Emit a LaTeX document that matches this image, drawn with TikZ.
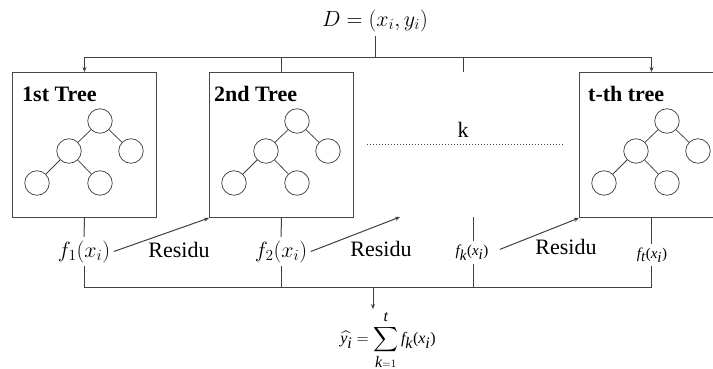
\RequirePackage{fix-cm}
\documentclass[tikz,border=0pt]{standalone}
\usepackage{exscale}
\usepackage[no-math]{fontspec}
\IfFontExistsTF{LiberationSerif-Regular.ttf}{%
  \newfontfamily\tms{LiberationSerif}[Extension=.ttf,UprightFont=*-Regular,BoldFont=*-Bold,ItalicFont=*-Italic,BoldItalicFont=*-BoldItalic]}{%
  \newfontfamily\tms{Latin Modern Roman}}
\usetikzlibrary{arrows.meta}
\newcommand\mytree[2]{%
  \node[tn] (r#1) at (#2,121) {};
  \node[tn] (m#1) at (#2-31,151) {};
  \node[tn] (q#1) at (#2+31,151) {};
  \node[tn] (l#1) at (#2-63,183) {};
  \node[tn] (p#1) at (#2,183) {};
  \draw[tedge] (r#1) -- (m#1);
  \draw[tedge] (r#1) -- (q#1);
  \draw[tedge] (m#1) -- (l#1);
  \draw[tedge] (m#1) -- (p#1);
}
\newcommand\ti[1]{\textit{\tms #1}}
\newcommand\smallf[1]{{\tms\fontsize{15}{18}\selectfont$\ti{f}_{\ti{#1}}\textrm{\tms(}\ti{x}_{\ti{i}}\textrm{\tms)}$}}
\begin{document}
\begin{tikzpicture}[x=1pt,y=-1pt,
  font=\tms\fontsize{22}{26}\selectfont,
  tbox/.style={draw=black!72, line width=1pt, minimum width=144pt, minimum height=145pt, anchor=north west, inner sep=0pt},
  tn/.style={circle, draw=black!75, line width=0.75pt, minimum size=24.5pt, inner sep=0pt},
  tedge/.style={draw=black!75, line width=0.75pt},
  conn/.style={draw=black!75, line width=1pt},
  arr/.style={conn, -{Stealth[length=5pt,width=4pt]}},
  ttl/.style={anchor=base west, font=\tms\fontsize{22}{26}\selectfont\bfseries, inner sep=0pt},
  lbl/.style={anchor=base, inner sep=3.5pt}
]
\useasboundingbox (0,0) rectangle (713,369);
\clip (0,0) rectangle (713,369);
% boxes
\node[tbox] (b1) at (12,72) {};
\node[tbox] (b2) at (209,72) {};
\node[tbox] (b3) at (579,72) {};
\node[ttl] (t1) at (22,102) {1st Tree};
\node[ttl] (t2) at (214,102) {2nd Tree};
\node[ttl] (t3) at (588,102) {t-th tree};
\mytree{a}{100}
\mytree{b}{297}
\mytree{c}{667}
% top
\node[inner sep=4pt] (D) at (375,21) {$D=(x_i,y_i)$};
\coordinate (tb) at (375,58);
\coordinate (kt) at (463,72);
\draw[conn] (D.south) -- (tb);
\draw[arr] (tb) -| (b1.north);
\draw[arr] (tb) -| (b3.north);
\draw[conn] (b2.north) -- (b2.north |- tb);
\draw[conn] (kt) -- (kt |- tb);
% k
\node (k) at (463,130) {k};
\coordinate (d1) at (367,144);
\coordinate (d2) at (563,144);
\draw[dotted, line width=1pt, black!75] (d1) -- (d2);
% bottom labels
\node[lbl] (f1) at (84,257) {$f_1(x_i)$};
\node[lbl] (f2) at (281,257) {$f_2(x_i)$};
\node[lbl] (fk) at (472,255) {\smallf{k}};
\node[lbl] (ft) at (652,258) {\smallf{t}};
\node[anchor=base] (r1) at (179,257) {Residu};
\node[anchor=base] (r2) at (381,256) {Residu};
\node[anchor=base] (r3) at (566,254) {Residu};
\coordinate (kb) at (473,217);
\coordinate (a2) at (400,217);
\coordinate (bb) at (373,287);
\draw[conn] (b1.south) -- (f1.north);
\draw[conn] (b2.south) -- (f2.north);
\draw[conn] (kb) -- (kb |- fk.north);
\draw[conn] (b3.south) -- (b3.south |- ft.north);
\draw[arr] (f1.east) -- (b2.south west);
\draw[arr] (f2.east) -- (a2);
\draw[arr] ([shift={(8,-3)}]fk.east) -- (b3.south west);
% bottom bus
\draw[conn] (f1.south) |- (bb);
\draw[conn] (bb) -| (b3.south |- ft.south);
\draw[conn] (f2.south) -- (f2.south |- bb);
\draw[conn] (kb |- fk.south) -- (kb |- bb);
\node[inner sep=2pt, font=\tms\fontsize{16}{19}\selectfont] (y) at (388,340) {$\displaystyle\widehat{\ti{y}_{\ti{i}}}=\sum_{\ti{k}=1}^{\ti{t}}\ti{f}_{\ti{k}}\textrm{\tms(}\ti{x}_{\ti{i}}\textrm{\tms)}$};
\draw[arr] (bb) -- (bb |- y.north);
\end{tikzpicture}
\end{document}
